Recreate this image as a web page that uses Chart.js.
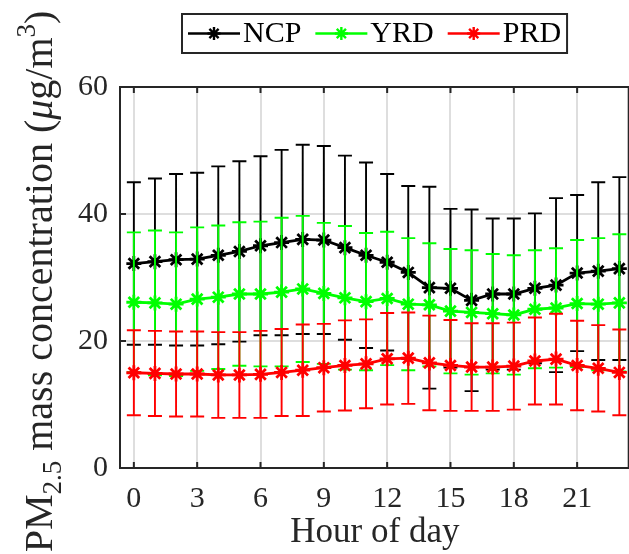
<!DOCTYPE html>
<html>
<head>
<meta charset="utf-8">
<script src="https://cdn.jsdelivr.net/npm/chart.js@4.4.1/dist/chart.umd.min.js"></script>
<style>
  html, body { margin: 0; padding: 0; background: #fff; overflow: hidden; }
  /* the axes box runs a little past the right edge of the view */
  #myChartContainer { width: 640px; height: 554px; }
</style>
</head>
<body>
<div id="myChartContainer"><canvas id="myChart" width="640" height="554"></canvas></div>
<script>
// hour of day
var hours = [0, 1, 2, 3, 4, 5, 6, 7, 8, 9, 10, 11, 12, 13, 14, 15, 16, 17, 18, 19, 20, 21, 22, 23];
var xTicks = [0, 3, 6, 9, 12, 15, 18, 21];
var yTicks = [0, 20, 40, 60];

// mean PM2.5 (ug/m3) and standard deviation per hour
var ncpMean = [32.2, 32.5, 32.8, 32.9, 33.5, 34.1, 35.0, 35.5, 36.0, 35.9, 34.7, 33.5, 32.4, 30.8, 28.4, 28.3, 26.4, 27.4, 27.4, 28.3, 28.8, 30.7, 31.0, 31.4];
var ncpStd = [12.8, 13.1, 13.5, 13.6, 14.0, 14.2, 14.1, 14.6, 14.9, 14.8, 14.5, 14.6, 13.9, 13.6, 15.9, 12.5, 14.3, 11.9, 11.9, 11.8, 13.7, 12.3, 14.0, 14.4];
var yrdMean = [26.1, 26.0, 25.8, 26.6, 26.9, 27.4, 27.4, 27.7, 28.2, 27.5, 26.8, 26.2, 26.7, 25.8, 25.7, 24.7, 24.5, 24.3, 24.1, 25.0, 25.2, 25.9, 25.8, 26.0];
var yrdStd = [11.0, 11.4, 11.3, 11.3, 11.3, 11.3, 11.4, 11.7, 11.5, 11.1, 11.3, 10.8, 10.5, 10.4, 9.7, 9.8, 9.8, 9.4, 9.4, 9.3, 9.4, 10.0, 10.4, 10.8];
var prdMean = [15.0, 14.9, 14.8, 14.8, 14.65, 14.65, 14.75, 15.05, 15.4, 15.8, 16.15, 16.4, 17.2, 17.3, 16.55, 16.15, 15.9, 15.9, 16.05, 16.85, 17.15, 16.15, 15.7, 15.05];
var prdStd = [6.7, 6.7, 6.7, 6.7, 6.75, 6.75, 6.85, 6.85, 7.2, 6.9, 7.1, 7.0, 7.2, 7.2, 7.45, 7.15, 6.9, 6.9, 6.85, 6.85, 7.15, 7.05, 6.8, 6.75];

var regions = ["NCP", "YRD", "PRD"];
var colors = ["#000000", "#00ff00", "#ff0000"];
var means = [ncpMean, yrdMean, prdMean];
var stds = [ncpStd, yrdStd, prdStd];

var FONT = "'Liberation Serif', 'Times New Roman', serif";
var AXIS = "#262626";

function points(values) {
  var out = [];
  for (var i = 0; i < hours.length; i++) {
    out.push({ x: hours[i], y: values[i] });
  }
  return out;
}

// error bars go under each series' own line, so later series cover earlier ones
var errorBars = {
  id: "errorBars",
  beforeDatasetDraw: function (chart, args) {
    var i = args.index;
    var xs = chart.scales.x;
    var ys = chart.scales.y;
    var ctx = chart.ctx;
    var cap = 7;
    ctx.save();
    ctx.strokeStyle = colors[i];
    ctx.lineWidth = 1.9;
    ctx.beginPath();
    for (var k = 0; k < hours.length; k++) {
      var px = xs.getPixelForValue(hours[k]);
      var top = ys.getPixelForValue(means[i][k] + stds[i][k]);
      var bot = ys.getPixelForValue(means[i][k] - stds[i][k]);
      ctx.moveTo(px, top);
      ctx.lineTo(px, bot);
      ctx.moveTo(px - cap, top);
      ctx.lineTo(px + cap, top);
      ctx.moveTo(px - cap, bot);
      ctx.lineTo(px + cap, bot);
    }
    ctx.stroke();
    ctx.restore();
  },
};

// box edges and inward tick marks
var frame = {
  id: "frame",
  afterDatasetsDraw: function (chart) {
    var ctx = chart.ctx;
    var a = chart.chartArea;
    var xs = chart.scales.x;
    var ys = chart.scales.y;
    var len = 6;
    ctx.save();
    ctx.strokeStyle = AXIS;
    ctx.lineWidth = 2;
    ctx.beginPath();
    ctx.moveTo(a.left - 1, a.top);
    ctx.lineTo(a.right - 1, a.top);
    ctx.lineTo(a.right - 1, a.bottom);
    ctx.moveTo(a.left, a.top);
    ctx.lineTo(a.left, a.bottom);
    ctx.moveTo(a.left - 1, a.bottom);
    ctx.lineTo(a.right, a.bottom);
    for (var i = 0; i < xTicks.length; i++) {
      var px = xs.getPixelForValue(xTicks[i]);
      ctx.moveTo(px, a.bottom);
      ctx.lineTo(px, a.bottom - len);
      ctx.moveTo(px, a.top);
      ctx.lineTo(px, a.top + len);
    }
    for (var j = 0; j < yTicks.length; j++) {
      var py = ys.getPixelForValue(yTicks[j]);
      ctx.moveTo(a.left, py);
      ctx.lineTo(a.left + len, py);
    }
    ctx.stroke();
    ctx.restore();
  },
};

// rotated y title with sub/superscripts
var yTitle = {
  id: "yTitle",
  afterDraw: function (chart) {
    var ctx = chart.ctx;
    var a = chart.chartArea;
    var size = 40;
    var small = 27;
    var parts = [
      { t: "PM", f: size + "px " + FONT, dy: 0 },
      { t: "2.5", f: small + "px " + FONT, dy: 9 },
      { t: " mass concentration (", f: size + "px " + FONT, dy: 0 },
      { t: "\u03bc", f: "italic " + size + "px " + FONT, dy: 0 },
      { t: "g/m", f: size + "px " + FONT, dy: 0 },
      { t: "3", f: small + "px " + FONT, dy: -17 },
      { t: ")", f: size + "px " + FONT, dy: 0 },
    ];
    var total = 0;
    for (var i = 0; i < parts.length; i++) {
      ctx.font = parts[i].f;
      parts[i].w = ctx.measureText(parts[i].t).width;
      total += parts[i].w;
    }
    ctx.save();
    ctx.translate(52, (a.top + a.bottom) / 2 + 4);
    ctx.rotate(-Math.PI / 2);
    ctx.fillStyle = AXIS;
    ctx.textBaseline = "alphabetic";
    var x = -total / 2;
    for (var k = 0; k < parts.length; k++) {
      ctx.font = parts[k].f;
      ctx.fillText(parts[k].t, x, parts[k].dy);
      x += parts[k].w;
    }
    ctx.restore();
  },
};

// boxed legend with line + star samples
var boxLegend = {
  id: "boxLegend",
  afterDraw: function (chart) {
    var ctx = chart.ctx;
    var a = chart.chartArea;
    var lineLen = 52;
    var gap = 3;
    var spacing = 14;
    var pad = 6;
    var top = 14;
    var height = 39;
    ctx.save();
    ctx.font = "30px " + FONT;
    var widths = [];
    var total = pad * 2;
    for (var i = 0; i < regions.length; i++) {
      widths.push(ctx.measureText(regions[i]).width);
      total += lineLen + gap + widths[i];
      if (i < regions.length - 1) total += spacing;
    }
    var left = Math.round((a.left + a.right) / 2 - total / 2);
    ctx.fillStyle = "#fff";
    ctx.fillRect(left, top, total, height);
    ctx.strokeStyle = AXIS;
    ctx.lineWidth = 2;
    ctx.strokeRect(left, top, total, height);
    var x = left + pad;
    var cy = top + height / 2;
    for (var j = 0; j < regions.length; j++) {
      ctx.strokeStyle = colors[j];
      ctx.lineWidth = 2.4;
      ctx.beginPath();
      ctx.moveTo(x, cy);
      ctx.lineTo(x + lineLen, cy);
      ctx.stroke();
      Chart.helpers.drawPoint(ctx, { pointStyle: "star", radius: 6.5, borderWidth: 2.4 }, x + lineLen / 2, cy);
      ctx.fillStyle = "#000";
      ctx.textBaseline = "middle";
      ctx.fillText(regions[j], x + lineLen + gap, cy + 1);
      x += lineLen + gap + widths[j] + spacing;
    }
    ctx.restore();
  },
};

var datasets = [];
for (var d = 0; d < regions.length; d++) {
  datasets.push({
    label: regions[d],
    data: points(means[d]),
    borderColor: colors[d],
    backgroundColor: colors[d],
    borderWidth: 2.8,
    pointStyle: "star",
    pointRadius: 7.5,
    pointBorderWidth: 2.8,
    pointBorderColor: colors[d],
    tension: 0,
    order: regions.length - d,
    clip: false,
  });
}

var config = {
  type: "line",
  data: { datasets: datasets },
  options: {
    responsive: false,
    animation: false,
    layout: { padding: { top: 87, right: 0, left: 0, bottom: 0 } },
    plugins: {
      legend: { display: false },
      tooltip: { enabled: false },
    },
    scales: {
      x: {
        type: "linear",
        min: -0.656,
        max: 23.49,
        afterBuildTicks: function (scale) {
          scale.ticks = xTicks.map(function (v) { return { value: v }; });
        },
        afterFit: function (scale) {
          scale.height = 86;
          scale.paddingLeft = 0;
          scale.paddingRight = 0;
        },
        grid: { color: "#dedede", lineWidth: 2, drawTicks: false },
        border: { display: false },
        ticks: {
          padding: 13,
          color: AXIS,
          maxRotation: 0,
          font: { family: FONT, size: 30 },
        },
        title: {
          display: true,
          text: "Hour of day",
          color: AXIS,
          padding: { top: 0, bottom: 0 },
          font: { family: FONT, size: 35 },
        },
      },
      y: {
        min: 0,
        max: 60,
        afterBuildTicks: function (scale) {
          scale.ticks = yTicks.map(function (v) { return { value: v }; });
        },
        afterFit: function (scale) {
          scale.width = 120;
          scale.paddingTop = 0;
          scale.paddingBottom = 0;
        },
        grid: { color: "#dedede", lineWidth: 2, drawTicks: false },
        border: { display: false },
        ticks: {
          padding: 12,
          color: AXIS,
          font: { family: FONT, size: 30 },
        },
      },
    },
  },
  plugins: [errorBars, frame, yTitle, boxLegend],
};

var myChart = new Chart(document.getElementById("myChart"), config);
</script>
</body>
</html>
